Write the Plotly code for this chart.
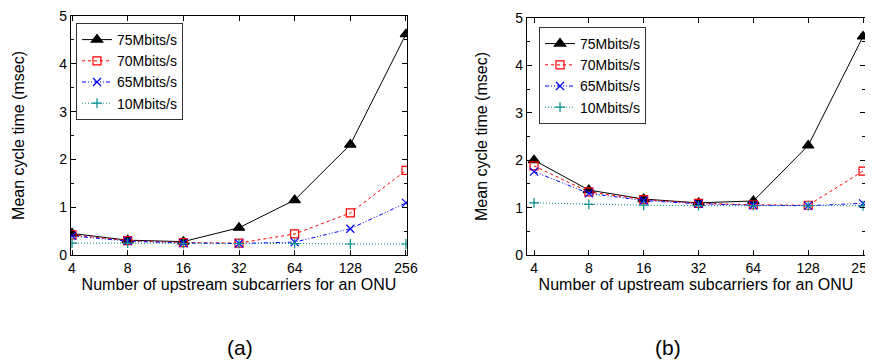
import plotly.graph_objects as go

subcarriers = [4, 8, 16, 32, 64, 128, 256]
series_names = ["75Mbits/s", "70Mbits/s", "65Mbits/s", "10Mbits/s"]

a_75 = [0.45, 0.31, 0.28, 0.57, 1.15, 2.31, 4.62]
a_70 = [0.42, 0.30, 0.26, 0.25, 0.44, 0.88, 1.77]
a_65 = [0.40, 0.29, 0.25, 0.24, 0.27, 0.55, 1.09]
a_10 = [0.25, 0.25, 0.24, 0.24, 0.24, 0.23, 0.23]

b_75 = [2.00, 1.37, 1.18, 1.10, 1.14, 2.31, 4.61]
b_70 = [1.88, 1.33, 1.17, 1.09, 1.06, 1.05, 1.77]
b_65 = [1.76, 1.30, 1.15, 1.08, 1.05, 1.04, 1.09]
b_10 = [1.10, 1.07, 1.05, 1.04, 1.04, 1.04, 1.04]

y_ticks = [0, 1, 2, 3, 4, 5]
x_title = "Number of upstream subcarriers for an ONU"
y_title = "Mean cycle time (msec)"
panel_labels = ["(a)", "(b)"]

FONT = "Liberation Sans, Arial, sans-serif"
W, H = 873, 360
OFF = 8  # page body margin offset


def px(v):
    return (v - OFF) / W


def py(v):
    return 1 - (v - OFF) / H


styles = [
    dict(color="black", dash="solid", symbol="triangle-up", msize=10, fill="black"),
    dict(color="#ff0000", dash="3px,3px", symbol="square-open", msize=8, fill="#ff0000"),
    dict(color="#0000ff", dash="4px,2px,1px,2px,1px,2px", symbol="x-thin-open", msize=8, fill="#0000ff"),
    dict(color="#008b8b", dash="1px,2px", symbol="cross-thin-open", msize=7, fill="#008b8b"),
]

fig = go.Figure()
panels = [([a_75, a_70, a_65, a_10], "x", "y", "legend"),
          ([b_75, b_70, b_65, b_10], "x2", "y2", "legend2")]
for data, xa, ya, lg in panels:
    for name, vals, st in zip(series_names, data, styles):
        fig.add_trace(go.Scatter(
            x=subcarriers, y=vals, name=name, mode="lines+markers",
            xaxis=xa, yaxis=ya, legend=lg,
            line=dict(color=st["color"], dash=st["dash"], width=1),
            marker=dict(symbol=st["symbol"], size=st["msize"], color=st["fill"],
                        line=dict(color=st["color"], width=1.2)),
        ))

axis_common = dict(showline=True, linecolor="black", linewidth=1.2, mirror="ticks",
                   ticks="inside", ticklen=5, tickcolor="black", showgrid=False,
                   zeroline=False, ticklabeloverflow="allow",
                   tickfont=dict(family=FONT, size=14, color="black"))
xaxis_common = dict(axis_common, type="log", tickvals=subcarriers,
                    ticktext=[str(v) for v in subcarriers],
                    title=dict(text=x_title, font=dict(family=FONT, size=16, color="black"), standoff=0))
yaxis_common = dict(axis_common, range=[0, 5], tickvals=y_ticks,
                    minor=dict(dtick=0.5, ticks="inside", ticklen=3, tickcolor="black"))


def ytitle(standoff):
    return dict(text=y_title, font=dict(family=FONT, size=16, color="black"), standoff=standoff)


legend_common = dict(bordercolor="#333333", borderwidth=1, bgcolor="white",
                     font=dict(family=FONT, size=14, color="black"),
                     xanchor="left", yanchor="top", tracegroupgap=0, itemwidth=30)

fig.update_layout(
    width=W, height=H,
    margin=dict(l=0, r=0, t=0, b=0, autoexpand=False),
    plot_bgcolor="white", paper_bgcolor="white",
    font=dict(family=FONT, color="black"),
    xaxis=dict(xaxis_common, domain=[px(71), px(407)], range=[0.5966, 2.4137], anchor="y"),
    yaxis=dict(yaxis_common, domain=[py(255), py(16)], anchor="x", title=ytitle(30)),
    xaxis2=dict(xaxis_common, domain=[px(527), px(865)], range=[0.5635, 2.419], anchor="y2"),
    yaxis2=dict(yaxis_common, domain=[py(255), py(18)], anchor="x2", title=ytitle(23)),
    legend=dict(legend_common, x=px(76), y=py(23), xref="paper", yref="paper"),
    legend2=dict(legend_common, x=px(539), y=py(27), xref="paper", yref="paper"),
    annotations=[
        dict(text=panel_labels[0], x=px(240), y=py(347), xref="paper", yref="paper",
             xanchor="center", yanchor="middle",
             showarrow=False, font=dict(family=FONT, size=21, color="black")),
        dict(text=panel_labels[1], x=px(668), y=py(347), xref="paper", yref="paper",
             xanchor="center", yanchor="middle",
             showarrow=False, font=dict(family=FONT, size=21, color="black")),
    ],
)

fig.write_html("out.html")
